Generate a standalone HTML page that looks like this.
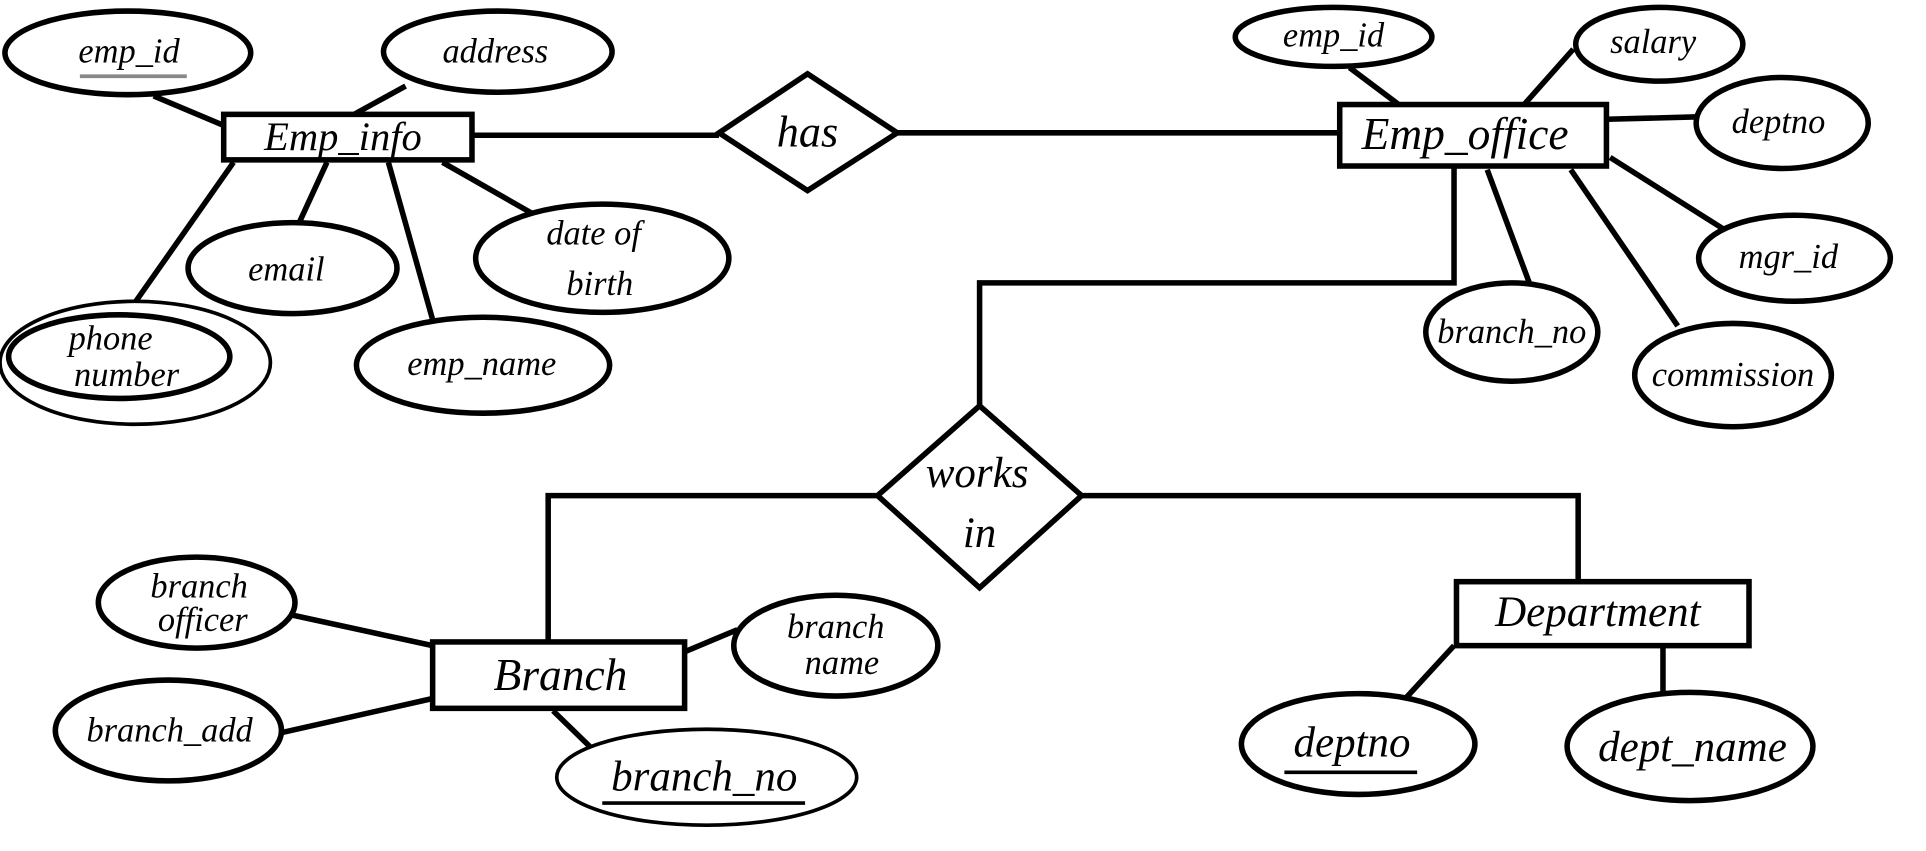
<!DOCTYPE html>
<html><head><meta charset="utf-8"><style>
html,body{margin:0;padding:0;background:#fff;}
svg{display:block;}
text{font-family:"Liberation Serif",serif;font-style:italic;fill:#000;text-anchor:middle;}
</style></head><body>
<svg width="1926" height="851" viewBox="0 0 1567 692" preserveAspectRatio="none" xmlns="http://www.w3.org/2000/svg">
<g stroke="#000" stroke-width="4.5" fill="none">
<line x1="125" y1="78" x2="182" y2="102"/>
<line x1="330" y1="70" x2="288" y2="93"/>
<line x1="190" y1="132" x2="107" y2="250"/>
<line x1="266" y1="132" x2="243" y2="182"/>
<line x1="316" y1="132" x2="352" y2="260"/>
<line x1="360" y1="132" x2="432" y2="173"/>
<line x1="384" y1="110" x2="585" y2="110"/>
<line x1="730" y1="108" x2="1090" y2="108"/>
<line x1="1098" y1="55" x2="1138" y2="85"/>
<line x1="1280" y1="40" x2="1240" y2="85"/>
<line x1="1307" y1="97" x2="1382" y2="95"/>
<line x1="1310" y1="128" x2="1405" y2="188"/>
<line x1="1210" y1="138" x2="1245" y2="232"/>
<line x1="1278" y1="138" x2="1365" y2="265"/>
<polyline points="1183,136 1183,230 797,230 797,330"/>
<polyline points="714,403 446,403 446,522"/>
<polyline points="880,403 1284,403 1284,473"/>
<line x1="237" y1="500" x2="352" y2="525"/>
<line x1="228" y1="596" x2="352" y2="568"/>
<line x1="557" y1="530" x2="600" y2="512"/>
<line x1="450" y1="578" x2="485" y2="612"/>
<line x1="1183" y1="525" x2="1125" y2="588"/>
<line x1="1353" y1="525" x2="1353" y2="565"/>
<g fill="#fff">
<ellipse cx="104" cy="43" rx="100" ry="34"/>
<ellipse cx="405" cy="42" rx="93" ry="33"/>
<ellipse cx="238" cy="218" rx="85" ry="37"/>
<ellipse cx="490" cy="210" rx="103" ry="44"/>
<ellipse cx="393" cy="297" rx="103" ry="39"/>
<ellipse cx="110" cy="295" rx="110" ry="50" stroke-width="3"/>
<ellipse cx="97" cy="290" rx="90" ry="34"/>
<ellipse cx="1085" cy="30" rx="80" ry="24"/>
<ellipse cx="1350" cy="36" rx="68" ry="30"/>
<ellipse cx="1450" cy="100" rx="70" ry="37"/>
<ellipse cx="1460" cy="210" rx="78" ry="35"/>
<ellipse cx="1230" cy="270" rx="70" ry="40"/>
<ellipse cx="1410" cy="305" rx="80" ry="42"/>
<ellipse cx="160" cy="490" rx="80" ry="37"/>
<ellipse cx="137" cy="594" rx="92" ry="41"/>
<ellipse cx="680" cy="525" rx="83" ry="41"/>
<ellipse cx="575" cy="632" rx="122" ry="39" stroke-width="3"/>
<ellipse cx="1105" cy="605" rx="95" ry="41"/>
<ellipse cx="1375" cy="607" rx="100" ry="44"/>
<rect x="182" y="93" width="202" height="37"/>
<rect x="1090" y="85" width="217" height="50"/>
<rect x="352" y="522" width="205" height="54"/>
<rect x="1185" y="473" width="238" height="52"/>
<polygon points="585,108 657,60 730,108 657,155"/>
<polygon points="714,403 797,330 880,403 797,478"/>
</g>
</g>
<line x1="65" y1="62" x2="152" y2="62" stroke="#888" stroke-width="3"/>
<line x1="490" y1="653" x2="655" y2="653" stroke="#000" stroke-width="3"/>
<line x1="1045" y1="628" x2="1153" y2="628" stroke="#000" stroke-width="3"/>
<g font-size="28">
<text x="105" y="51">emp_id</text>
<text x="403" y="51">address</text>
<text x="233" y="228">email</text>
<text x="483" y="199">date of</text>
<text x="488" y="240">birth</text>
<text x="392" y="305">emp_name</text>
<text x="90" y="284">phone</text>
<text x="103" y="314">number</text>
<text x="1085" y="38">emp_id</text>
<text x="1345" y="43">salary</text>
<text x="1447" y="108">deptno</text>
<text x="1455" y="218">mgr_id</text>
<text x="1230" y="279">branch_no</text>
<text x="1410" y="314">commission</text>
<text x="162" y="486">branch</text>
<text x="165" y="513">officer</text>
<text x="138" y="603">branch_add</text>
<text x="680" y="519">branch</text>
<text x="685" y="548">name</text>
</g>
<text x="279" y="122" font-size="33">Emp_info</text>
<text x="1192" y="121" font-size="37">Emp_office</text>
<text x="657" y="119" font-size="36">has</text>
<text x="795" y="396" font-size="35">works</text>
<text x="797" y="445" font-size="35">in</text>
<text x="456" y="561" font-size="37">Branch</text>
<text x="1300" y="509" font-size="35">Department</text>
<text x="573" y="643" font-size="35">branch_no</text>
<text x="1100" y="615" font-size="35">deptno</text>
<text x="1377" y="619" font-size="35">dept_name</text>
</svg>
</body></html>
